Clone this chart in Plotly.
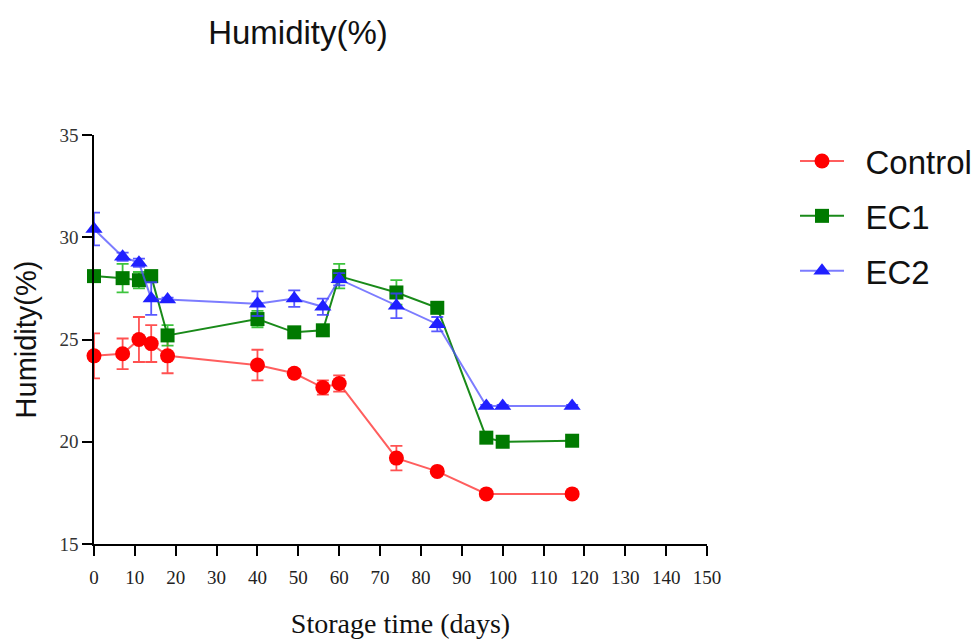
import plotly.graph_objects as go

# Storage days and humidity readings (mean ± SD) per treatment
days_control = [0, 7, 11, 14, 18, 40, 49, 56, 60, 74, 84, 96, 117]
control = [24.2, 24.3, 25.0, 24.8, 24.2, 23.75, 23.35, 22.65, 22.85, 19.2, 18.55, 17.45, 17.45]
control_sd = [1.1, 0.75, 1.1, 0.9, 0.85, 0.75, 0.2, 0.35, 0.4, 0.6, 0.1, 0.05, 0.05]

days_ec = [0, 7, 11, 14, 18, 40, 49, 56, 60, 74, 84, 96, 100, 117]
ec1 = [28.1, 28.0, 27.9, 28.1, 25.2, 26.0, 25.35, 25.45, 28.1, 27.3, 26.55, 20.2, 20.0, 20.05]
ec1_sd = [0.2, 0.7, 0.4, 0.2, 0.5, 0.4, 0.15, 0.2, 0.6, 0.6, 0.2, 0.1, 0.1, 0.1]
ec2 = [30.4, 29.05, 28.75, 27.0, 26.95, 26.75, 27.0, 26.6, 27.95, 26.65, 25.75, 21.75, 21.75, 21.75]
ec2_sd = [0.8, 0.2, 0.2, 0.8, 0.1, 0.6, 0.4, 0.4, 0.3, 0.6, 0.35, 0.05, 0.05, 0.05]

x_ticks = list(range(0, 151, 10))
y_ticks = [15, 20, 25, 30, 35]

series = [
    ("Control", days_control, control, control_sd, "circle", 15,
     "#ff0000", "rgba(255,40,40,0.75)", "rgba(255,50,50,0.85)"),
    ("EC1", days_ec, ec1, ec1_sd, "square", 14,
     "#007a00", "rgba(0,125,0,0.9)", "rgba(40,190,40,0.9)"),
    ("EC2", days_ec, ec2, ec2_sd, "triangle-up", 15,
     "#2020ff", "rgba(80,80,255,0.75)", "rgba(60,60,255,0.85)"),
]

fig = go.Figure()
for name, xs, ys, sd, sym, size, mcol, lcol, ecol in series:
    fig.add_trace(go.Scatter(
        x=xs, y=ys, name="\u2002" + name, mode="lines+markers",
        legendgroup=name,
        line=dict(color=lcol, width=2),
        marker=dict(symbol=sym, size=size, color=mcol, line=dict(width=0)),
        error_y=dict(type="data", array=sd, visible=True,
                     color=ecol, thickness=1.8, width=6),
        cliponaxis=False,
    ))

fig.update_layout(
    width=977, height=639,
    margin=dict(l=94, r=270, t=135, b=95, autoexpand=False),
    paper_bgcolor="white", plot_bgcolor="white",
    title=dict(text="Humidity(%)", x=298 / 977, xanchor="center", xref="container",
               y=1 - 32 / 639, yanchor="middle", yref="container",
               font=dict(family="Liberation Sans, Arial", size=33, color="#111")),
    legend=dict(x=795 / 977, xanchor="left", xref="container",
                y=1 - 133 / 639, yanchor="top", yref="container",
                font=dict(family="Liberation Sans, Arial", size=33, color="#111"),
                itemwidth=44, tracegroupgap=9, bgcolor="rgba(0,0,0,0)"),
    showlegend=True,
)

fig.update_xaxes(
    range=[0, 150], tickvals=x_ticks, ticktext=[str(v) for v in x_ticks],
    showline=True, linecolor="black", linewidth=1.5,
    ticks="outside", ticklen=10, tickwidth=1.5, tickcolor="black",
    ticklabelstandoff=5,
    showgrid=False, zeroline=False,
    tickfont=dict(family="Liberation Serif, Times New Roman", size=19, color="#222"),
    title=dict(text="Storage time (days)", standoff=31,
               font=dict(family="Liberation Serif, Times New Roman", size=28, color="#111")),
)
fig.update_yaxes(
    range=[15, 35], tickvals=y_ticks, ticktext=[str(v) for v in y_ticks],
    showline=True, linecolor="black", linewidth=1.5,
    ticks="outside", ticklen=10, tickwidth=1.5, tickcolor="black",
    showgrid=False, zeroline=False,
    tickfont=dict(family="Liberation Serif, Times New Roman", size=19, color="#333"),
    title=dict(text="Humidity(%)", standoff=14,
               font=dict(family="Liberation Sans, Arial", size=29, color="#111")),
)

fig.write_html("out.html")
